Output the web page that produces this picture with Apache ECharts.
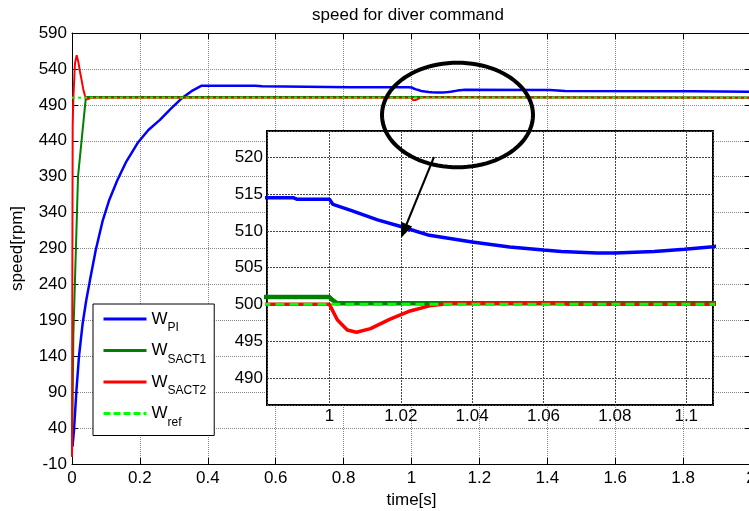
<!DOCTYPE html>
<html><head><meta charset="utf-8">
<script src="https://cdn.jsdelivr.net/npm/echarts@6/dist/echarts.min.js"></script>
<style>html,body{margin:0;padding:0;background:#fff}#c{width:749px;height:511px}</style>
</head><body><div id="c"></div>
<script>
// ---------- data ----------
const titleText = 'speed for diver command';
const xName = 'time[s]';
const yName = 'speed[rpm]';
const seriesNames = ['W_PI', 'W_SACT1', 'W_SACT2', 'W_ref'];
const seriesColors = ['#0000ff', '#008000', '#ff0000', '#00ff00'];

const wPI = [
  [0.0015, 14], [0.006, 38], [0.013, 92], [0.0206, 140], [0.0315, 186], [0.042, 218],
  [0.053, 246], [0.07, 288], [0.09, 328], [0.11, 358], [0.1335, 385], [0.16, 411],
  [0.195, 438], [0.225, 455], [0.259, 469], [0.29, 484], [0.323, 499], [0.352, 509],
  [0.382, 516.6], [0.54, 516.5], [0.56, 515.8], [0.82, 514.5], [0.99, 514.5], [0.991, 514.3],
  [1.0, 514.3], [1.001, 513.6], [1.006, 512.8], [1.0135, 511.5], [1.02, 510.6], [1.028, 509.4],
  [1.04, 508.5], [1.0505, 507.8], [1.06, 507.4], [1.065, 507.2], [1.075, 507.0], [1.08, 507.0],
  [1.091, 507.2], [1.0995, 507.5], [1.1075, 507.85], [1.115, 508.3], [1.135, 509.8], [1.158, 511],
  [1.408, 510.6], [1.452, 509.2], [1.826, 509.0], [1.83, 508.2], [2.0, 508.2]
];
const wSACT1 = [
  [0, 0], [0.002, 80], [0.004, 170], [0.0088, 246], [0.0177, 390], [0.041, 501],
  [1.0, 501], [1.0008, 500.6], [1.0022, 500.15], [2.0, 500.1]
];
const wSACT2 = [
  [0, 0], [0.001, 250], [0.002, 460], [0.004, 500], [0.0088, 548], [0.0138, 559],
  [0.0186, 550], [0.0236, 536], [0.0285, 524], [0.033, 512], [0.038, 503], [0.042, 497.5],
  [0.047, 497.5], [0.053, 499], [0.06, 500], [1.0, 500], [1.0022, 497.9], [1.005, 496.5],
  [1.0076, 496.2], [1.0115, 496.7], [1.017, 498.0], [1.0226, 499.1], [1.028, 499.8],
  [1.035, 500.2], [1.065, 500.2], [1.067, 500], [2.0, 500]
];
const wRef = [[0, 500], [2.0, 500]];

// axis ranges
const mainX = {min: 0, max: 2, interval: 0.2};
const mainY = {min: -10, max: 590, interval: 50};
const insetX = {min: 0.9825, max: 1.1075, splitNumber: 6};
const insetY = {min: 486.3, max: 523.6, splitNumber: 7};

// ---------- chart ----------
const font = 'Liberation Sans, Arial, sans-serif';
const chart = echarts.init(document.getElementById('c'), null, {renderer: 'canvas'});
const allData = [wPI, wSACT1, wSACT2, wRef];
const mainWidths = [2.5, 2, 2, 2];
const mainTypes = ['solid', 'solid', 'solid', [3, 3]];
const insetWidths = [3.5, 4.5, 3.5, 3];
const insetTypes = ['solid', 'solid', 'solid', [9, 5]];

const series = [];
allData.forEach((d, i) => {
  series.push({
    name: seriesNames[i], type: 'line', data: d, xAxisIndex: 0, yAxisIndex: 0,
    symbol: 'none', showSymbol: false, z: 2, clip: true,
    lineStyle: {color: seriesColors[i], width: mainWidths[i], type: mainTypes[i]},
    itemStyle: {color: seriesColors[i]}
  });
});
allData.forEach((d, i) => {
  series.push({
    name: seriesNames[i], type: 'line', data: d, xAxisIndex: 2, yAxisIndex: 2,
    symbol: 'none', showSymbol: false, z: 12, clip: true,
    lineStyle: {color: seriesColors[i], width: insetWidths[i], type: insetTypes[i]},
    itemStyle: {color: seriesColors[i]}
  });
});

const gridLineMain = {show: true, lineStyle: {color: '#888', width: 1, type: [1, 1]}};
const gridLineInset = {show: true, lineStyle: {color: '#444', width: 1, type: [2, 1]}};
const lbl = {color: '#000', fontSize: 17, fontFamily: font};

// ellipse annotation points
const ell = [];
for (let k = 0; k < 96; k++) {
  const a = k / 96 * Math.PI * 2;
  ell.push([457.5 + 75.5 * Math.cos(a), 115 + 52.3 * Math.sin(a)]);
}

chart.setOption({
  animation: false,
  backgroundColor: '#fff',
  textStyle: {fontFamily: font},
  title: {
    text: titleText, left: 408, top: 7, textAlign: 'center', padding: 0,
    textStyle: {fontSize: 17, fontWeight: 'normal', color: '#000', fontFamily: font}
  },
  grid: [
    {left: 72, top: 33, right: -2, bottom: 47, show: false, outerBoundsMode: 'none', containLabel: false},
    {left: 267, top: 131, width: 446, height: 274, show: true, z: 10, outerBoundsMode: 'none', containLabel: false,
     backgroundColor: '#fff', borderColor: '#000', borderWidth: 2}
  ],
  legend: {
    orient: 'vertical', left: 93, top: 304, z: 20,
    backgroundColor: '#fff', borderColor: '#000', borderWidth: 1,
    padding: [6.5, 8, 7, 9], itemWidth: 43, itemHeight: 12, itemGap: 8,
    data: seriesNames.map((n, i) => i === 3 ? {name: n, lineStyle: {type: [7, 3]}} : {name: n}),
    lineStyle: {width: 3},
    itemStyle: {opacity: 0},
    formatter: n => '{w|W}{s|' + n.slice(2) + '}',
    textStyle: {
      fontFamily: font,
      rich: {
        w: {fontSize: 17, lineHeight: 30, color: '#000', fontFamily: font},
        s: {fontSize: 12, verticalAlign: 'bottom', color: '#000', fontFamily: font}
      }
    }
  },
  xAxis: [
    {type: 'value', gridIndex: 0, position: 'bottom', ...mainX,
     name: xName, nameLocation: 'middle', nameGap: 23,
     nameTextStyle: {color: '#000', fontSize: 17, fontFamily: font},
     axisLine: {show: true, onZero: false, lineStyle: {color: '#000', width: 1}},
     axisTick: {show: true, inside: true, length: 6, lineStyle: {color: '#000'}},
     axisLabel: {...lbl, margin: 6},
     splitLine: gridLineMain},
    {type: 'value', gridIndex: 0, position: 'top', ...mainX,
     axisLine: {show: true, onZero: false, lineStyle: {color: '#000', width: 1}},
     axisTick: {show: true, inside: true, length: 6, lineStyle: {color: '#000'}},
     axisLabel: {show: false}, splitLine: {show: false}},
    {type: 'value', gridIndex: 1, ...insetX, z: 11,
     axisLine: {show: false}, axisTick: {show: false},
     axisLabel: {...lbl, margin: 3, showMinLabel: false, showMaxLabel: false},
     splitLine: gridLineInset}
  ],
  yAxis: [
    {type: 'value', gridIndex: 0, position: 'left', ...mainY,
     name: yName, nameLocation: 'middle', nameGap: 46,
     nameTextStyle: {color: '#000', fontSize: 17, fontFamily: font},
     axisLine: {show: true, onZero: false, lineStyle: {color: '#000', width: 1}},
     axisTick: {show: true, inside: true, length: 6, lineStyle: {color: '#000'}},
     axisLabel: {...lbl, margin: 5},
     splitLine: gridLineMain},
    {type: 'value', gridIndex: 0, position: 'right', ...mainY,
     axisLine: {show: true, onZero: false, lineStyle: {color: '#000', width: 1}},
     axisTick: {show: true, inside: true, length: 6, lineStyle: {color: '#000'}},
     axisLabel: {show: false}, splitLine: {show: false}},
    {type: 'value', gridIndex: 1, ...insetY, z: 11,
     axisLine: {show: false}, axisTick: {show: false},
     axisLabel: {...lbl, margin: 4, showMinLabel: false, showMaxLabel: false},
     splitLine: gridLineInset}
  ],
  series: series,
  graphic: [
    {type: 'polygon', z: 30, shape: {points: ell},
     style: {fill: null, stroke: '#000', lineWidth: 4}},
    {type: 'line', z: 30, shape: {x1: 434, y1: 157, x2: 405, y2: 228},
     style: {stroke: '#000', lineWidth: 2}},
    {type: 'polygon', z: 30, shape: {points: [[401, 238], [412.2, 226.4], [401.1, 221.8]]},
     style: {fill: '#000'}}
  ]
});
</script></body></html>
